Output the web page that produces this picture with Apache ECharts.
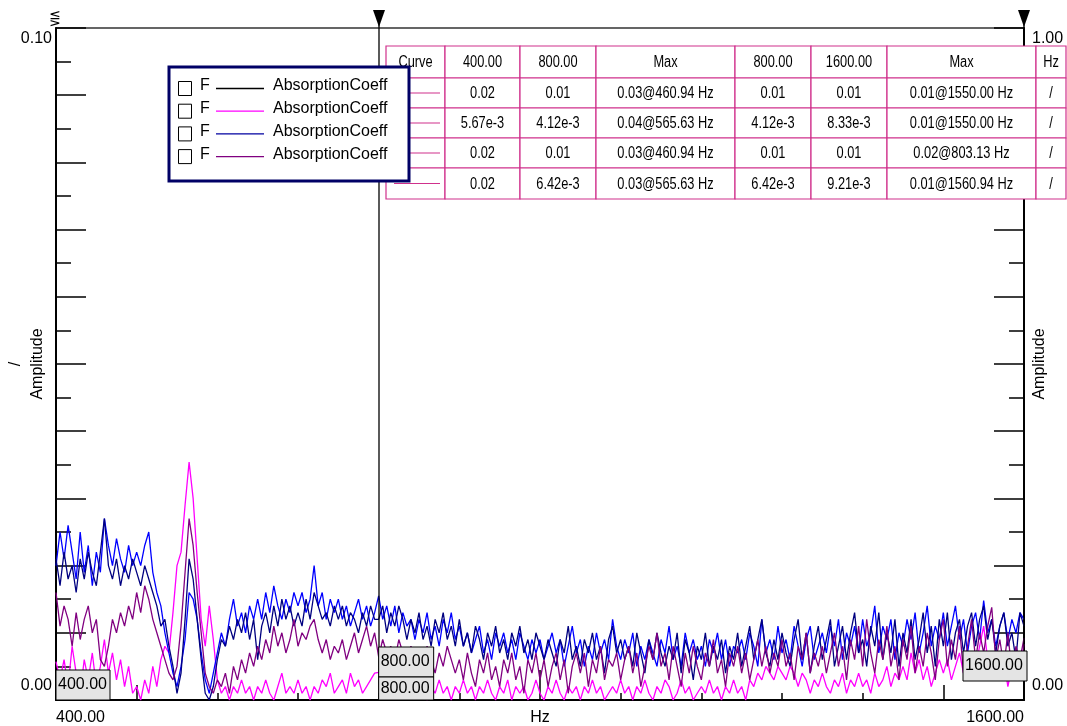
<!DOCTYPE html>
<html>
<head>
<meta charset="utf-8">
<script src="https://cdn.jsdelivr.net/npm/echarts@6/dist/echarts.min.js"></script>
<style>
    html, body { margin: 0; padding: 0; background: #fff; }
    #main { width: 1067px; height: 726px; }
</style>
</head>
<body>
<div id="main"></div>
<script>
// frequency grid (Hz)
const freqStart = 400;
const freqStep = 5;

// curve 1 (navy)
const absF1 = [
    0.021, 0.017, 0.022, 0.018, 0.020, 0.016, 0.021, 0.018, 0.022, 0.019,
    0.017, 0.022, 0.027, 0.020, 0.018, 0.021, 0.017, 0.020, 0.018, 0.021,
    0.019, 0.017, 0.020, 0.018, 0.016, 0.014, 0.011, 0.012, 0.008, 0.005,
    0.001, 0.004, 0.012, 0.021, 0.018, 0.012, 0.006, 0.001, 0.000, 0.002,
    0.006, 0.009, 0.008, 0.011, 0.009, 0.012, 0.010, 0.013, 0.009, 0.012,
    0.006, 0.011, 0.013, 0.010, 0.014, 0.011, 0.015, 0.012, 0.014, 0.011,
    0.013, 0.011, 0.015, 0.012, 0.016, 0.014, 0.012, 0.013, 0.011, 0.014,
    0.012, 0.014, 0.011, 0.013, 0.012, 0.010, 0.013, 0.011, 0.014, 0.012,
    0.012, 0.014, 0.010, 0.013, 0.011, 0.014, 0.012, 0.009, 0.012, 0.010,
    0.013, 0.009, 0.011, 0.008, 0.012, 0.010, 0.013, 0.009, 0.011, 0.008,
    0.012, 0.008, 0.010, 0.007, 0.011, 0.009, 0.006, 0.010, 0.008, 0.011,
    0.007, 0.009, 0.006, 0.010, 0.008, 0.011, 0.007, 0.009, 0.006, 0.010,
    0.008, 0.006, 0.009, 0.007, 0.005, 0.009, 0.007, 0.011, 0.006, 0.008,
    0.005, 0.009, 0.007, 0.010, 0.006, 0.008, 0.004, 0.009, 0.011, 0.007,
    0.009, 0.006, 0.008, 0.005, 0.010, 0.007, 0.004, 0.009, 0.006, 0.010,
    0.007, 0.005, 0.008, 0.006, 0.010, 0.004, 0.009, 0.007, 0.003, 0.008,
    0.006, 0.010, 0.005, 0.008, 0.006, 0.009, 0.004, 0.008, 0.006, 0.010,
    0.005, 0.008, 0.011, 0.006, 0.009, 0.012, 0.007, 0.005, 0.009, 0.006,
    0.010, 0.007, 0.005, 0.009, 0.012, 0.006, 0.010, 0.004, 0.008, 0.011,
    0.006, 0.009, 0.012, 0.005, 0.008, 0.011, 0.006, 0.010, 0.013, 0.007,
    0.009, 0.005, 0.011, 0.008, 0.013, 0.006, 0.010, 0.007, 0.012, 0.005,
    0.010, 0.007, 0.012, 0.006, 0.009, 0.013, 0.007, 0.011, 0.005, 0.012,
    0.008, 0.013, 0.006, 0.010, 0.012, 0.007, 0.011, 0.013, 0.008, 0.012,
    0.014, 0.009, 0.012, 0.007, 0.011, 0.013, 0.008, 0.010, 0.006, 0.013,
    0.011
];

// curve 2 (magenta)
const absF2 = [
    0.0057, 0.003, 0.006, 0.002, 0.008, 0.004, 0.001, 0.006, 0.003, 0.007,
    0.002, 0.005, 0.009, 0.004, 0.007, 0.003, 0.006, 0.002, 0.005, 0.001,
    0.002, 0.000, 0.003, 0.001, 0.005, 0.002, 0.006, 0.008, 0.007, 0.013,
    0.020, 0.022, 0.029, 0.0354, 0.030, 0.021, 0.012, 0.008, 0.014, 0.009,
    0.003, 0.001, 0.002, 0.000, 0.002, 0.001, 0.003, 0.001, 0.002, 0.000,
    0.002, 0.001, 0.003, 0.001, 0.000, 0.002, 0.004, 0.001, 0.002, 0.001,
    0.003, 0.001, 0.002, 0.000, 0.002, 0.001, 0.003, 0.002, 0.004, 0.001,
    0.002, 0.003, 0.001, 0.004, 0.002, 0.003, 0.001, 0.002, 0.003, 0.004,
    0.0041, 0.002, 0.003, 0.001, 0.002, 0.004, 0.001, 0.003, 0.001, 0.002,
    0.001, 0.003, 0.000, 0.002, 0.001, 0.003, 0.001, 0.002, 0.000, 0.002,
    0.001, 0.003, 0.001, 0.002, 0.000, 0.002, 0.001, 0.003, 0.001, 0.000,
    0.002, 0.001, 0.003, 0.000, 0.002, 0.001, 0.002, 0.000, 0.001, 0.003,
    0.001, 0.000, 0.002, 0.001, 0.003, 0.001, 0.000, 0.002, 0.001, 0.002,
    0.000, 0.002, 0.001, 0.003, 0.001, 0.002, 0.000, 0.001, 0.002, 0.001,
    0.003, 0.001, 0.002, 0.000, 0.002, 0.001, 0.003, 0.001, 0.000, 0.002,
    0.001, 0.003, 0.002, 0.000, 0.001, 0.003, 0.001, 0.002, 0.000, 0.001,
    0.002, 0.001, 0.003, 0.001, 0.002, 0.000, 0.002, 0.001, 0.003, 0.001,
    0.002, 0.000, 0.003, 0.002, 0.004, 0.003, 0.005, 0.004, 0.003, 0.005,
    0.004, 0.003, 0.005, 0.004, 0.002, 0.004, 0.003, 0.001, 0.003, 0.002,
    0.004, 0.002, 0.001, 0.003, 0.002, 0.004, 0.001, 0.003, 0.002, 0.004,
    0.002, 0.003, 0.001, 0.004, 0.002, 0.003, 0.005, 0.002, 0.004, 0.003,
    0.005, 0.003, 0.007, 0.004, 0.006, 0.003, 0.005, 0.002, 0.004, 0.006,
    0.004, 0.006, 0.003, 0.005, 0.007, 0.004, 0.006, 0.003, 0.005, 0.008,
    0.011, 0.006, 0.004, 0.007, 0.003, 0.006, 0.002, 0.005, 0.007, 0.004,
    0.0083
];

// curve 3 (blue)
const absF3 = [
    0.020, 0.025, 0.021, 0.026, 0.022, 0.018, 0.025, 0.019, 0.023, 0.017,
    0.022, 0.019, 0.027, 0.023, 0.020, 0.024, 0.021, 0.019, 0.023, 0.020,
    0.022, 0.020, 0.023, 0.025, 0.019, 0.016, 0.014, 0.010, 0.007, 0.004,
    0.002, 0.005, 0.009, 0.016, 0.015, 0.012, 0.007, 0.003, 0.001, 0.004,
    0.007, 0.010, 0.008, 0.012, 0.015, 0.011, 0.013, 0.010, 0.014, 0.012,
    0.015, 0.012, 0.016, 0.013, 0.017, 0.014, 0.012, 0.015, 0.013, 0.016,
    0.014, 0.016, 0.013, 0.015, 0.020, 0.014, 0.016, 0.012, 0.015, 0.013,
    0.015, 0.012, 0.014, 0.011, 0.013, 0.015, 0.012, 0.014, 0.011, 0.013,
    0.0155, 0.012, 0.014, 0.011, 0.014, 0.010, 0.013, 0.011, 0.012, 0.009,
    0.012, 0.010, 0.013, 0.009, 0.011, 0.008, 0.012, 0.010, 0.013, 0.009,
    0.011, 0.008, 0.010, 0.007, 0.009, 0.011, 0.007, 0.009, 0.006, 0.010,
    0.008, 0.010, 0.007, 0.009, 0.006, 0.010, 0.008, 0.006, 0.009, 0.007,
    0.009, 0.006, 0.008, 0.010, 0.007, 0.009, 0.005, 0.008, 0.011, 0.007,
    0.009, 0.005, 0.008, 0.006, 0.010, 0.007, 0.009, 0.006, 0.012, 0.008,
    0.006, 0.009, 0.007, 0.010, 0.005, 0.008, 0.006, 0.009, 0.007, 0.005,
    0.009, 0.007, 0.011, 0.006, 0.008, 0.005, 0.010, 0.007, 0.009, 0.006,
    0.008, 0.005, 0.009, 0.007, 0.010, 0.006, 0.009, 0.005, 0.008, 0.007,
    0.009, 0.006, 0.010, 0.008, 0.005, 0.012, 0.007, 0.009, 0.006, 0.011,
    0.007, 0.009, 0.006, 0.011, 0.008, 0.005, 0.009, 0.011, 0.006, 0.008,
    0.010, 0.007, 0.011, 0.008, 0.012, 0.006, 0.010, 0.008, 0.011, 0.007,
    0.012, 0.008, 0.010, 0.014, 0.007, 0.011, 0.009, 0.012, 0.006, 0.010,
    0.008, 0.012, 0.009, 0.013, 0.007, 0.010, 0.014, 0.008, 0.011, 0.009,
    0.013, 0.008, 0.011, 0.014, 0.009, 0.012, 0.007, 0.011, 0.013, 0.009,
    0.0148, 0.010, 0.012, 0.008, 0.011, 0.013, 0.009, 0.012, 0.010, 0.013,
    0.012
];

// curve 4 (purple)
const absF4 = [
    0.016, 0.011, 0.014, 0.012, 0.008, 0.013, 0.009, 0.012, 0.014, 0.010,
    0.012, 0.006, 0.005, 0.008, 0.012, 0.010, 0.013, 0.011, 0.014, 0.012,
    0.016, 0.013, 0.017, 0.015, 0.012, 0.010, 0.008, 0.006, 0.004, 0.003,
    0.005, 0.011, 0.019, 0.027, 0.023, 0.016, 0.010, 0.004, 0.002, 0.001,
    0.003, 0.002, 0.004, 0.001, 0.005, 0.003, 0.006, 0.004, 0.007, 0.005,
    0.008, 0.006, 0.009, 0.007, 0.011, 0.008, 0.010, 0.007, 0.009, 0.012,
    0.008, 0.010, 0.009, 0.011, 0.012, 0.009, 0.007, 0.009, 0.006, 0.008,
    0.007, 0.009, 0.006, 0.008, 0.010, 0.007, 0.009, 0.011, 0.008, 0.010,
    0.0064, 0.009, 0.007, 0.008, 0.006, 0.009, 0.007, 0.005, 0.008, 0.006,
    0.007, 0.005, 0.008, 0.006, 0.004, 0.007, 0.005, 0.008, 0.006, 0.004,
    0.006, 0.003, 0.007, 0.004, 0.002, 0.006, 0.004, 0.007, 0.003, 0.005,
    0.002, 0.006, 0.004, 0.007, 0.003, 0.005, 0.001, 0.006, 0.004, 0.007,
    0.003, 0.006, 0.002, 0.005, 0.007, 0.003, 0.006, 0.001, 0.005, 0.007,
    0.004, 0.007, 0.002, 0.006, 0.004, 0.008, 0.003, 0.006, 0.005, 0.007,
    0.003, 0.006, 0.008, 0.004, 0.007, 0.002, 0.005, 0.008, 0.006, 0.010,
    0.005, 0.007, 0.003, 0.008, 0.005, 0.002, 0.007, 0.004, 0.008, 0.005,
    0.003, 0.007, 0.005, 0.009, 0.004, 0.006, 0.002, 0.007, 0.005, 0.008,
    0.004, 0.007, 0.003, 0.006, 0.009, 0.005, 0.008, 0.004, 0.007, 0.005,
    0.009, 0.005, 0.007, 0.003, 0.008, 0.006, 0.010, 0.004, 0.007, 0.005,
    0.008, 0.004, 0.007, 0.010, 0.005, 0.008, 0.003, 0.009, 0.006, 0.011,
    0.005, 0.012, 0.007, 0.004, 0.009, 0.006, 0.011, 0.005, 0.008, 0.003,
    0.009, 0.006, 0.011, 0.004, 0.008, 0.005, 0.010, 0.007, 0.003, 0.009,
    0.012, 0.005, 0.009, 0.006, 0.011, 0.004, 0.008, 0.012, 0.006, 0.010,
    0.007, 0.011, 0.0138, 0.006, 0.009, 0.005, 0.010, 0.004, 0.008, 0.006,
    0.0092
];

// axes
const xTickLabels = [400, 1600];
const xMidTicks = [500, 1500];
const xMajorTicks = [1000];
const yLeftLabels = [0, 0.1];
const yRightLabels = [0, 1];

// legend
const legendNames = ['F', 'F', 'F', 'F'];
const legendLabels = ['AbsorptionCoeff', 'AbsorptionCoeff', 'AbsorptionCoeff', 'AbsorptionCoeff'];
const legendColors = ['#000000', '#ff00ff', '#0000a0', '#800080'];

// cursor table
const tableHeader = ['Curve', '400.00', '800.00', 'Max', '800.00', '1600.00', 'Max', 'Hz'];
const tableRows = [
    ['0.02', '0.01', '0.03@460.94 Hz', '0.01', '0.01', '0.01@1550.00 Hz', '/'],
    ['5.67e-3', '4.12e-3', '0.04@565.63 Hz', '4.12e-3', '8.33e-3', '0.01@1550.00 Hz', '/'],
    ['0.02', '0.01', '0.03@460.94 Hz', '0.01', '0.01', '0.02@803.13 Hz', '/'],
    ['0.02', '6.42e-3', '0.03@565.63 Hz', '6.42e-3', '9.21e-3', '0.01@1560.94 Hz', '/']
];

// cursors
const cursorMarks = [800, 1600];

const FONT = 'Liberation Sans, Arial, sans-serif';

function toPairs(arr) {
    return arr.map((v, i) => [freqStart + i * freqStep, v]);
}

function lineSeries(name, data, color) {
    return {
        name: name,
        type: 'line',
        data: toPairs(data),
        showSymbol: false,
        symbol: 'none',
        lineStyle: { color: color, width: 1.3 },
        itemStyle: { color: color },
        silent: true
    };
}

const axisText = { color: '#000', fontSize: 16, fontFamily: FONT };
const blackLine = { color: '#000', width: 2 };
const tickLine = { color: '#000', width: 1.5 };
// end labels sit inside the axis span, nudged off the corners
const endRich = {
    lo: { fontSize: 16, fontFamily: FONT, color: '#000', padding: [0, 0, 6, 0] },
    hi: { fontSize: 16, fontFamily: FONT, color: '#000', padding: [3, 0, 0, 0] }
};
const endLabel = (v, min) => (v === min ? '{lo|' : '{hi|') + v.toFixed(2) + '}';

let option = {
    animation: false,
    backgroundColor: '#fff',
    grid: {
        left: 56, right: 43, top: 28, bottom: 26,
        containLabel: false, outerBoundsMode: 'none',
        show: true, borderColor: '#333', borderWidth: 1.5, backgroundColor: 'transparent'
    },
    xAxis: [{
        type: 'value', min: 400, max: 1600, interval: 100,
        name: 'Hz', nameLocation: 'middle', nameGap: 10, nameMoveOverlap: false,
        nameTextStyle: Object.assign({ verticalAlign: 'top' }, axisText),
        axisLine: { lineStyle: blackLine },
        axisTick: { inside: true, length: 7, lineStyle: tickLine },
        axisLabel: Object.assign({
            customValues: xTickLabels, margin: 10,
            alignMinLabel: 'left', alignMaxLabel: 'right',
            formatter: v => v.toFixed(2)
        }, axisText),
        splitLine: { show: false }
    }, {
        type: 'value', min: 400, max: 1600, interval: 100, position: 'bottom',
        axisLine: { show: false },
        axisTick: { customValues: xMidTicks, inside: true, length: 15, lineStyle: tickLine },
        axisLabel: { show: false },
        splitLine: { show: false }
    }, {
        type: 'value', min: 400, max: 1600, interval: 100, position: 'bottom',
        axisLine: { show: false },
        axisTick: { customValues: xMajorTicks, inside: true, length: 30, lineStyle: tickLine },
        axisLabel: { show: false },
        splitLine: { show: false }
    }],
    yAxis: [{
        type: 'value', min: 0, max: 0.1, interval: 0.01, position: 'left',
        name: '/\nAmplitude', nameLocation: 'middle', nameGap: 7, nameRotate: 90, nameMoveOverlap: false,
        nameTextStyle: Object.assign({ lineHeight: 22 }, axisText),
        axisLine: { show: true, lineStyle: blackLine },
        axisTick: { inside: true, length: 30, lineStyle: tickLine },
        minorTick: { show: true, splitNumber: 2, length: 15, lineStyle: tickLine },
        axisLabel: {
            customValues: yLeftLabels, margin: 4,
            verticalAlignMinLabel: 'bottom', verticalAlignMaxLabel: 'top',
            formatter: v => endLabel(v, 0), rich: endRich
        },
        splitLine: { show: false }
    }, {
        type: 'value', min: 0, max: 1, interval: 0.1, position: 'right',
        name: 'Amplitude', nameLocation: 'middle', nameGap: 8, nameRotate: 90, nameMoveOverlap: false,
        nameTextStyle: axisText,
        axisLine: { show: true, lineStyle: blackLine },
        axisTick: { inside: true, length: 30, lineStyle: tickLine },
        minorTick: { show: true, splitNumber: 2, length: 15, lineStyle: tickLine },
        axisLabel: {
            customValues: yRightLabels, margin: 8,
            verticalAlignMinLabel: 'bottom', verticalAlignMaxLabel: 'top',
            formatter: v => endLabel(v, 0), rich: endRich
        },
        splitLine: { show: false }
    }],
    series: [
        lineSeries('F AbsorptionCoeff 2', absF2, '#ff00ff'),
        lineSeries('F AbsorptionCoeff 3', absF3, '#0000ff'),
        lineSeries('F AbsorptionCoeff 1', absF1, '#000080'),
        lineSeries('F AbsorptionCoeff 4', absF4, '#800080')
    ]
};

const chart = echarts.init(document.getElementById('main'));
chart.setOption(option);

const px = f => chart.convertToPixel({ xAxisIndex: 0 }, f);
const py = v => chart.convertToPixel({ yAxisIndex: 0 }, v);

let graphics = [];

// cursor lines and markers
const baseY = py(0);
cursorMarks.forEach(f => {
    const x = Math.round(px(f));
    graphics.push({
        type: 'line', z: 50,
        shape: { x1: x, y1: 12, x2: x, y2: baseY },
        style: { stroke: '#000', lineWidth: 1.3 }
    });
    graphics.push({
        type: 'polygon', z: 50,
        shape: { points: [[x - 6, 10], [x + 6, 10], [x, 27]] },
        style: { fill: '#000' }
    });
});
graphics.push({
    type: 'text', z: 50, x: 55, y: 19,
    style: { text: '⋚', fill: '#000', fontSize: 14, fontFamily: 'DejaVu Sans', align: 'center', verticalAlign: 'middle' }
});

// cursor value boxes
function valueBox(x, y, w, h, text) {
    graphics.push({
        type: 'rect', z: 60,
        shape: { x: x, y: y, width: w, height: h },
        style: { fill: '#e4e4e4', stroke: '#000', lineWidth: 1 }
    });
    graphics.push({
        type: 'text', z: 61, x: x + 2, y: y + h / 2,
        style: { text: text, fill: '#000', fontSize: 16, fontFamily: FONT, verticalAlign: 'middle' }
    });
}
valueBox(px(400), baseY - 30, 54, 30, '400.00');
valueBox(px(800), baseY - 53, 55, 30, '800.00');
valueBox(px(800), baseY - 23, 55, 23, '800.00');
valueBox(px(1600) - 61, baseY - 49, 64, 30, '1600.00');

// table
const colX = [386, 445, 520, 596, 735, 811, 887, 1036, 1066];
const rowY = [46, 78, 108, 138, 168, 199];
const tableColor = '#d0308c';
const allRows = [tableHeader].concat(tableRows.map(r => [''].concat(r)));
allRows.forEach((row, r) => {
    row.forEach((cell, c) => {
        const x0 = colX[c], x1 = colX[c + 1], y0 = rowY[r], y1 = rowY[r + 1];
        graphics.push({
            type: 'rect', z: 70,
            shape: { x: x0, y: y0, width: x1 - x0, height: y1 - y0 },
            style: { fill: '#fff', stroke: tableColor, lineWidth: 1.2 }
        });
        if (cell !== '') {
            // condensed lettering as in the source table
            graphics.push({
                type: 'text', z: 71, x: (x0 + x1) / 2, y: (y0 + y1) / 2 + 1, scaleX: 0.8,
                style: { text: cell, fill: '#000', fontSize: 16, fontFamily: FONT, align: 'center', verticalAlign: 'middle' }
            });
        }
        if (r > 0 && c === 0) {
            graphics.push({
                type: 'line', z: 71,
                shape: { x1: x0 + 8, y1: (y0 + y1) / 2, x2: x1 - 5, y2: (y0 + y1) / 2 },
                style: { stroke: tableColor, lineWidth: 1.2 }
            });
        }
    });
});

// legend
graphics.push({
    type: 'rect', z: 80,
    shape: { x: 169, y: 67, width: 240, height: 114 },
    style: { fill: '#fff', stroke: '#000066', lineWidth: 3 }
});
legendLabels.forEach((label, k) => {
    const cy = 86 + k * 22.7;
    graphics.push({
        type: 'rect', z: 81,
        shape: { x: 178.5, y: cy - 4.5, width: 13, height: 14 },
        style: { fill: '#fff', stroke: '#000', lineWidth: 1 }
    });
    graphics.push({
        type: 'text', z: 81, x: 200, y: cy,
        style: { text: legendNames[k], fill: '#000', fontSize: 16, fontFamily: FONT, verticalAlign: 'middle' }
    });
    graphics.push({
        type: 'line', z: 81,
        shape: { x1: 216, y1: cy + 2.5, x2: 264, y2: cy + 2.5 },
        style: { stroke: legendColors[k], lineWidth: 1.3 }
    });
    graphics.push({
        type: 'text', z: 81, x: 273, y: cy,
        style: { text: label, fill: '#000', fontSize: 16, fontFamily: FONT, verticalAlign: 'middle' }
    });
});

chart.setOption({ graphic: graphics });
</script>
</body>
</html>
